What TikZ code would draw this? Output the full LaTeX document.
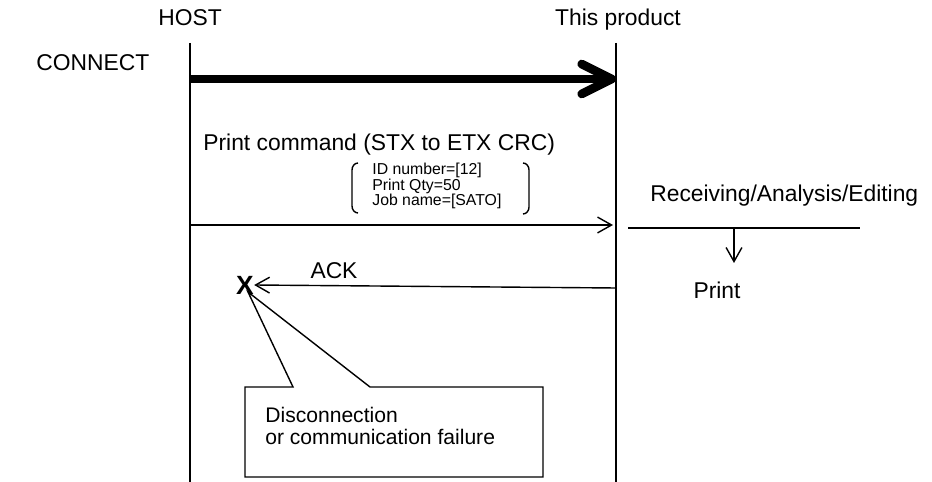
\documentclass[tikz,border=0pt]{standalone}
\usepackage{fontspec}
\setmainfont{Liberation Sans}
\usetikzlibrary{arrows.meta,calc}

\begin{document}
\begin{tikzpicture}[x=0.02cm, y=-0.02cm,
  lifeline/.style={line width=1.6pt},
  msg/.style={line width=0.8pt, -{Straight Barb[length=8pt, width=9pt, line width=0.8pt]}},
  txt/.style={font=\fontsize{13}{15}\selectfont, inner sep=0pt},
  small/.style={font=\fontsize{9}{8.8}\selectfont, align=left, inner sep=0pt}]
  \useasboundingbox (0,0) rectangle (932,482);

  \coordinate (H0) at (190, 43);
  \coordinate (H1) at (190, 482);
  \coordinate (P0) at (616, 43);
  \coordinate (P1) at (616, 482);
  \coordinate (conL) at (190, 79);
  \coordinate (conR) at (616, 79);
  \coordinate (cmdL) at (190, 225);
  \coordinate (cmdR) at (613, 225);
  \coordinate (ackR) at (616, 288);
  \coordinate (recL) at (628, 228);
  \coordinate (recR) at (860, 228);
  \coordinate (recM) at (734, 228);
  \coordinate (prt) at (734, 263);

  \draw[lifeline] (H0) -- (H1);
  \draw[lifeline] (P0) -- (P1);

  \node[txt] (host) at (190, 18) {HOST};
  \node[txt] (prod) at (618, 20) {This product};
  \node[txt, anchor=west] (connect) at (36, 63) {CONNECT};

  \draw[line width=5pt, -{Straight Barb[length=17pt, width=17pt, line width=5pt, round]}] (conL) -- (conR);

  \node[txt, anchor=west] (cmd) at (203, 145) {Print command (STX to ETX CRC)};
  \node[small, anchor=west] (params) at (372, 186) {ID number=[12]\\Print Qty=50\\Job name=[SATO]};
  \draw[line width=0.8pt] (358, 163) to[out=180, in=90] (352, 170) -- (352, 206) to[out=-90, in=180] (358, 213);
  \draw[line width=0.8pt] (523, 163) to[out=0, in=90] (529, 170) -- (529, 207) to[out=-90, in=0] (523, 214);
  \draw[msg] (cmdL) -- (cmdR);

  \node[txt, anchor=west] (recv) at (650, 196) {Receiving/Analysis/Editing};
  \draw[line width=0.8pt] (recL) -- (recR);
  \draw[msg] (recM) -- (prt);
  \node[txt] (print) at (717, 290) {Print};

  \node[font=\fontsize{15}{15}\selectfont\bfseries, inner sep=0pt] (cut) at (245, 285) {X};
  \draw[msg] (ackR) -- (cut.east);
  \node[txt] (ack) at (334, 271) {ACK};

  \coordinate (tip) at (248, 292);
  \draw[line width=0.8pt] (tip) -- (293, 387) -- (245, 387) -- (245, 477) -- (543, 477) -- (543, 387) -- (370, 387) -- cycle;
  \node[font=\fontsize{12}{13}\selectfont, align=left, inner sep=0pt, anchor=west] (fail) at (265, 426) {Disconnection\\or communication failure};
\end{tikzpicture}
\end{document}
